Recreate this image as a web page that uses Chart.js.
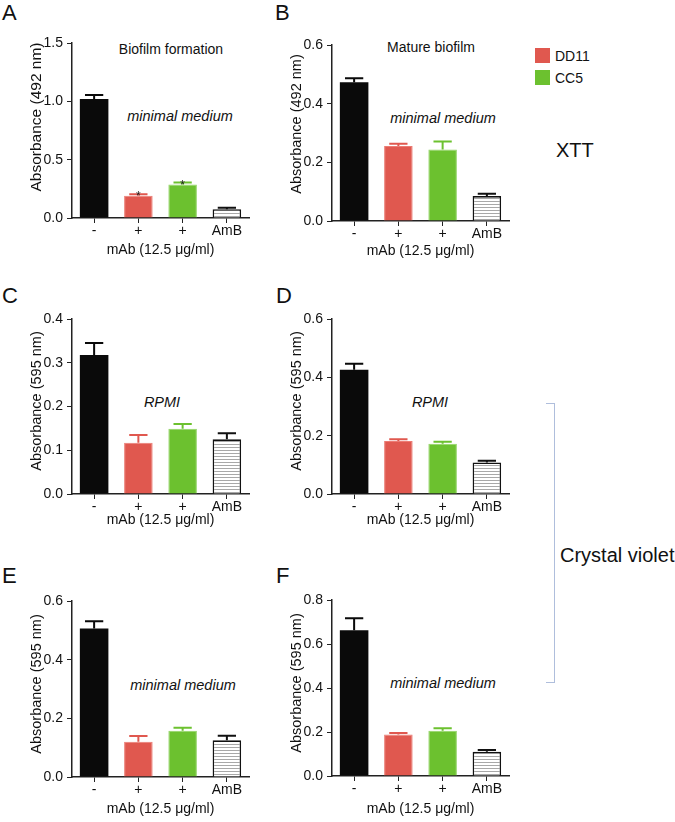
<!DOCTYPE html>
<html>
<head>
<meta charset="utf-8">
<script src="https://cdn.jsdelivr.net/npm/chart.js@4.4.1/dist/chart.umd.min.js"></script>
<style>
body{margin:0;background:#fff;width:675px;height:822px;position:relative;overflow:hidden;font-family:"Liberation Sans",Arial,sans-serif;color:#111}
canvas{position:absolute}
.t{position:absolute;white-space:nowrap;line-height:1;transform:translate(-50%,-50%)}
.l{position:absolute;white-space:nowrap;line-height:1;transform:translateY(-50%)}
.letter{font-size:22px}
.note{font-size:14px}
.it{font-size:14.5px;font-style:italic}
.sq{position:absolute;width:15px;height:15px}
.big{font-size:20px}
</style>
</head>
<body>

<div class="l letter" style="left:2px;top:12.5px">A</div>
<div class="l letter" style="left:275px;top:12.5px">B</div>
<div class="l letter" style="left:2px;top:295.5px">C</div>
<div class="l letter" style="left:276px;top:295.5px">D</div>
<div class="l letter" style="left:2px;top:575.5px">E</div>
<div class="l letter" style="left:276px;top:575.5px">F</div>

<div class="t note" style="left:171px;top:49px">Biofilm formation</div>
<div class="t note" style="left:431px;top:47px">Mature biofilm</div>
<div class="t it" style="left:180px;top:116px">minimal medium</div>
<div class="t it" style="left:443px;top:118px">minimal medium</div>
<div class="t it" style="left:162px;top:402px">RPMI</div>
<div class="t it" style="left:430px;top:402px">RPMI</div>
<div class="t it" style="left:183px;top:685px">minimal medium</div>
<div class="t it" style="left:443px;top:683px">minimal medium</div>

<div class="sq" style="left:535px;top:48px;background:#E0584F"></div>
<div class="l note" style="left:555px;top:55.5px">DD11</div>
<div class="sq" style="left:535px;top:70px;background:#6CC12F"></div>
<div class="l note" style="left:555px;top:77.5px">CC5</div>

<div class="l big" style="left:556px;top:150px">XTT</div>
<div style="position:absolute;left:546px;top:403px;width:8px;height:278px;border:1.5px solid #AFBEDC;border-left:none"></div>
<div class="l big" style="left:560px;top:555px">Crystal violet</div>

<script>
// categories on the x axis of every panel
const categories = ['-', '+', '+', 'AmB'];
const seriesNames = ['control', 'DD11', 'CC5', 'AmB'];

// mean absorbance and SD (upper error bar) per panel
const meansA = [1.02, 0.19, 0.287, 0.076];
const sdA    = [0.034, 0.013, 0.017, 0.012];
const sigA   = ['', '*', '*', ''];

const meansB = [0.473, 0.256, 0.244, 0.085];
const sdB    = [0.014, 0.007, 0.027, 0.008];

const meansC = [0.318, 0.117, 0.149, 0.125];
const sdC    = [0.027, 0.018, 0.011, 0.014];

const meansD = [0.426, 0.182, 0.172, 0.108];
const sdD    = [0.021, 0.006, 0.007, 0.006];

const meansE = [0.506, 0.12, 0.158, 0.125];
const sdE    = [0.025, 0.02, 0.01, 0.016];

const meansF = [0.662, 0.189, 0.206, 0.11];
const sdF    = [0.055, 0.006, 0.011, 0.008];

const noSig = ['', '', '', ''];

// y axis ranges (max, step)
const yMaxes = [1.5, 0.6, 0.4, 0.6, 0.6, 0.8];
const ySteps = [0.5, 0.2, 0.1, 0.2, 0.2, 0.2];

const RED = '#E0584F', GREEN = '#6CC12F', BLACK = '#0a0a0a';
const FONT = '"Liberation Sans", Arial, sans-serif';
Chart.defaults.font.family = FONT;
Chart.defaults.color = '#111';

// striped fill for the AmB bar
function stripes() {
    const c = document.createElement('canvas');
    c.width = 4; c.height = 3;
    const g = c.getContext('2d');
    g.fillStyle = '#fff'; g.fillRect(0, 0, 4, 3);
    g.fillStyle = '#a8a8a8'; g.fillRect(0, 0, 4, 1);
    return g.createPattern(c, 'repeat');
}
const amb = stripes();

// error bars (upper half only) + significance stars
const errorBars = {
    id: 'errorBars',
    afterDatasetsDraw(chart, args, opts) {
        const meta = chart.getDatasetMeta(0);
        const y = chart.scales.y;
        const vals = chart.data.datasets[0].data;
        const c = chart.ctx;
        meta.data.forEach((bar, i) => {
            const top = y.getPixelForValue(vals[i] + opts.sd[i]);
            const half = bar.width * 0.32;
            c.save();
            c.strokeStyle = opts.colors[i];
            c.lineWidth = 2;
            c.beginPath();
            c.moveTo(bar.x, bar.y);
            c.lineTo(bar.x, top);
            c.moveTo(bar.x - half, top);
            c.lineTo(bar.x + half, top);
            c.stroke();
            if (opts.sig[i]) {
                c.fillStyle = '#222';
                c.font = '12px ' + FONT;
                c.textAlign = 'center';
                c.textBaseline = 'alphabetic';
                c.fillText(opts.sig[i], bar.x, top + 6);
            }
            c.restore();
        });
    }
};

// rotated y title, placed like the original figure
const yTitle = {
    id: 'yTitle',
    afterDraw(chart, args, opts) {
        const c = chart.ctx;
        c.save();
        c.translate(opts.x, opts.cy);
        c.rotate(-Math.PI / 2);
        c.font = opts.size + 'px ' + FONT;
        c.fillStyle = '#111';
        c.textAlign = 'center';
        c.textBaseline = 'middle';
        c.fillText(opts.text, 0, 0);
        c.restore();
    }
};

const panels = [
    {means: meansA, sd: sdA, sig: sigA,  nm: '492', left: 0,   top: 0,   chartTop: 43,  bottom: 218, xh: 45, tcy: 117, ts: 15.5},
    {means: meansB, sd: sdB, sig: noSig, nm: '492', left: 260, top: 0,   chartTop: 45,  bottom: 221, xh: 43, tcy: 124, ts: 14.5},
    {means: meansC, sd: sdC, sig: noSig, nm: '595', left: 0,   top: 270, chartTop: 319, bottom: 494, xh: 39, tcy: 401, ts: 14.5},
    {means: meansD, sd: sdD, sig: noSig, nm: '595', left: 260, top: 270, chartTop: 319, bottom: 494, xh: 39, tcy: 401, ts: 14.5},
    {means: meansE, sd: sdE, sig: noSig, nm: '595', left: 0,   top: 540, chartTop: 601, bottom: 777, xh: 45, tcy: 684, ts: 14.5},
    {means: meansF, sd: sdF, sig: noSig, nm: '595', left: 260, top: 540, chartTop: 600, bottom: 776, xh: 46, tcy: 683, ts: 14.5}
];

panels.forEach((p, k) => {
    const cv = document.createElement('canvas');
    cv.width = 260;
    cv.height = p.bottom - p.top + p.xh;
    cv.style.left = p.left + 'px';
    cv.style.top = p.top + 'px';
    document.body.appendChild(cv);

    new Chart(cv.getContext('2d'), {
        type: 'bar',
        data: {
            labels: categories,
            datasets: [{
                label: seriesNames.join(' / '),
                data: p.means,
                backgroundColor: [BLACK, RED, GREEN, amb],
                borderColor: [BLACK, '#EC7B73', '#92D465', '#111'],
                borderWidth: [0, 1, 1, 1.6],
                categoryPercentage: 1,
                barPercentage: 0.645
            }]
        },
        plugins: [errorBars, yTitle],
        options: {
            responsive: false,
            animation: false,
            devicePixelRatio: 1,
            layout: {padding: {top: p.chartTop - p.top, right: 11, left: 0, bottom: 0}},
            plugins: {
                legend: {display: false},
                tooltip: {enabled: false},
                errorBars: {sd: p.sd, sig: p.sig, colors: [BLACK, RED, GREEN, '#111']},
                yTitle: {text: 'Absorbance (' + p.nm + ' nm)', x: 37, cy: p.tcy - p.top, size: p.ts}
            },
            scales: {
                x: {
                    grid: {offset: false, drawOnChartArea: false, drawTicks: true, tickLength: 5, color: '#222'},
                    border: {color: '#222', width: 1.5},
                    ticks: {font: {size: 14, lineHeight: 1}, color: '#111', padding: 1, maxRotation: 0, autoSkip: false},
                    title: {display: true, text: 'mAb (12.5 μg/ml)', font: {size: 14}, color: '#111', padding: {top: 0, bottom: 4}},
                    afterFit(s) { s.height = p.xh; }
                },
                y: {
                    min: 0,
                    max: yMaxes[k],
                    ticks: {stepSize: ySteps[k], callback: v => v.toFixed(1), font: {size: 14}, color: '#111', padding: 4},
                    grid: {drawOnChartArea: false, tickLength: 5, color: '#222'},
                    border: {color: '#222', width: 1.5},
                    afterFit(s) { s.width = 72; }
                }
            }
        }
    });
});
</script>
</body>
</html>
